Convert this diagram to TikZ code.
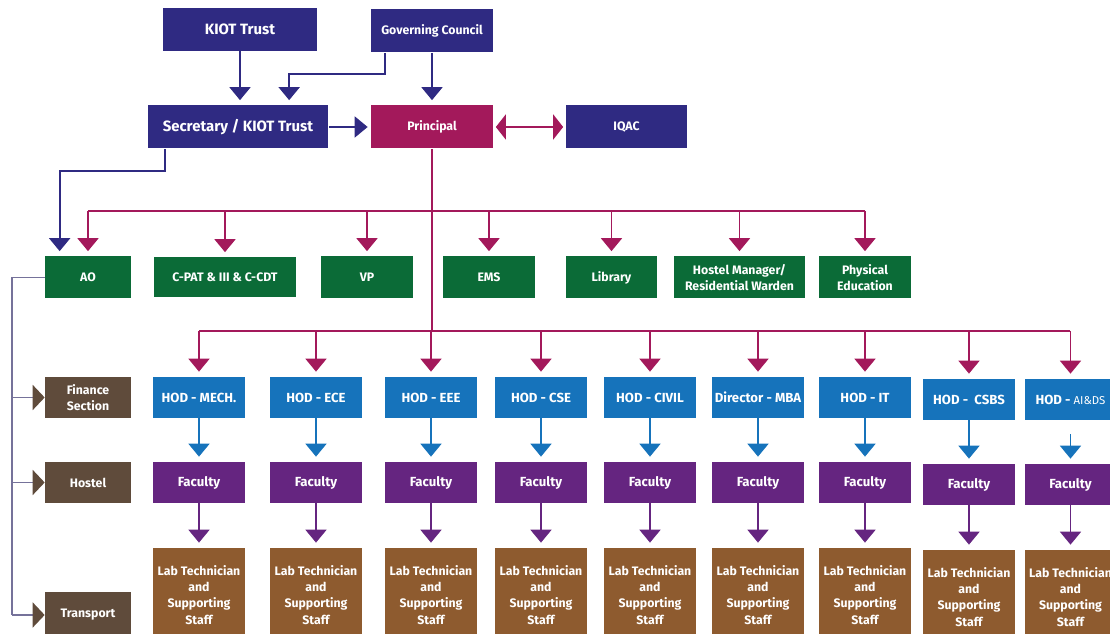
\documentclass[tikz,border=0pt]{standalone}
\usepackage{fontspec}
\setmainfont{Fira Sans}
\usetikzlibrary{arrows.meta,calc,positioning}

\definecolor{trustnavy}{HTML}{2F2A82}
\definecolor{princmag}{HTML}{A3195B}
\definecolor{unitgreen}{HTML}{0B6B37}
\definecolor{hodblue}{HTML}{1673BB}
\definecolor{facpurple}{HTML}{652580}
\definecolor{labbrown}{HTML}{8E5B2F}
\definecolor{sidebrown}{HTML}{5F4B3B}
\definecolor{spinegrey}{HTML}{75729A}

\newcommand{\smallfont}{\bfseries\fontsize{7}{9.2}\selectfont}
\newcommand{\midfont}{\bfseries\fontsize{7.5}{9.2}\selectfont}
\newcommand{\bigfont}{\bfseries\fontsize{8.5}{10}\selectfont}

\tikzset{
  unitbox/.style={rectangle, draw=none, text=white, font=\smallfont, align=center,
    inner sep=0pt, minimum height=0.86cm},
  navybox/.style={unitbox, fill=trustnavy},
  magbox/.style={unitbox, fill=princmag},
  greenbox/.style={unitbox, fill=unitgreen, minimum height=0.84cm},
  hodbox/.style={unitbox, fill=hodblue, font=\midfont, minimum width=1.83cm, minimum height=0.82cm},
  facbox/.style={unitbox, fill=facpurple, font=\midfont, minimum width=1.83cm, minimum height=0.82cm},
  labbox/.style={unitbox, fill=labbrown, minimum width=1.83cm, minimum height=1.88cm},
  sidebox/.style={unitbox, fill=sidebrown, minimum width=1.72cm, minimum height=0.82cm},
  tip/.style={-{Triangle[width=0.42cm,length=0.26cm]}, line width=1.1pt},
  navyarrow/.style={tip, draw=trustnavy, shorten >=0.1cm},
  magarrow/.style={tip, draw=princmag, shorten >=0.1cm},
  magline/.style={draw=princmag, line width=1.1pt},
  bluearrow/.style={tip, draw=hodblue, shorten >=0.1cm},
  purplearrow/.style={tip, draw=facpurple, shorten >=0.1cm},
  spineline/.style={draw=spinegrey, line width=1.1pt},
  sidearrow/.style={-{Triangle[width=0.5cm,length=0.24cm,color=sidebrown]}, draw=spinegrey, line width=1.1pt}
}

\begin{document}
\begin{tikzpicture}[x=0.02cm,y=-0.02cm]
\useasboundingbox (0,0) rectangle (1110,634);
\clip (0,0) rectangle (1110,634);

% top management
\node[navybox, minimum width=3.08cm, font=\bigfont] (kiot) at (240,29.5) {KIOT Trust};
\node[navybox, minimum width=2.44cm] (council) at (432,31) {Governing Council};
\node[navybox, minimum width=3.62cm, font=\bigfont] (secretary) at (238,127) {Secretary / KIOT Trust};
\node[magbox, minimum width=2.44cm] (principal) at (432,127) {Principal};
\node[navybox, minimum width=2.42cm] (iqac) at (626.5,127) {IQAC};

\draw[navyarrow] (kiot.south) -- (kiot.south |- secretary.north);
\draw[navyarrow] ($(council.south west)+(14,0)$) -- ++(0,21) -| ($(secretary.north west)+(142,0)$);
\draw[navyarrow] (council) -- (principal);
\draw[navyarrow, shorten >=0.06cm] (secretary) -- (principal);
\draw[princmag, line width=1.1pt, {Triangle[width=0.5cm,length=0.2cm]}-{Triangle[width=0.5cm,length=0.2cm]},
  shorten <=0.05cm, shorten >=0.05cm] (principal) -- (iqac);

% units under the principal
\node[greenbox, minimum width=1.72cm] (ao) at (88,277.5) {AO};
\node[greenbox, minimum width=2.86cm, minimum height=0.8cm] (cpat) at (225,277.5) {C-PAT \& III \& C-CDT};
\node[greenbox, minimum width=1.84cm] (vp) at (367,277.5) {VP};
\node[greenbox, minimum width=1.84cm] (ems) at (489,277.5) {EMS};
\node[greenbox, minimum width=1.84cm] (library) at (611.5,277.5) {Library};
\node[greenbox, minimum width=2.62cm] (hostelmgr) at (739.5,277.5) {Hostel Manager/\\Residential Warden};
\node[greenbox, minimum width=1.86cm] (phyedu) at (865,277.5) {Physical\\Education};

\coordinate (busone) at (0,211);
\coordinate (bustwo) at (0,331);
\draw[magline] (principal) -- (principal |- bustwo);
\draw[magline] (ao.north |- busone) -- (phyedu.north |- busone);
\foreach \n in {ao,cpat,vp,ems,library,hostelmgr,phyedu}
  \draw[magarrow] (\n.north |- busone) -- (\n.north);

\draw[navyarrow] ($(secretary.south west)+(18,0)$) -- ++(0,22) -| ($(ao.north west)+(15,0)$);

% side sections
\node[sidebox] (finance) at (88,397.5) {Finance\\Section};
\node[sidebox] (hostel) at (88,482.5) {Hostel};
\node[sidebox, minimum height=0.92cm] (transport) at (88,615) {Transport};

\draw[spineline] (ao.west) -- ++(-33,0) coordinate (spine) -- (spine |- transport);
\foreach \n in {finance,hostel,transport}
  \draw[sidearrow] (spine |- \n) -- (\n.west);

% departments
\draw[magline] (199,331) -- (1070,331);
\foreach \n/\x/\y/\txt in {mech/199/0/HOD - MECH., ece/316/0/HOD - ECE, eee/431/0/HOD - EEE,
    cse/541/0/HOD - CSE, civil/650/0/HOD - CIVIL, mba/758/0/Director - MBA,
    it/865/0/HOD - IT, csbs/969/2/HOD -\ \ CSBS,
    aids/1070.5/2/{HOD - {\mdseries\fontsize{6.5}{8}\selectfont AI\&DS}}} {
  \node[hodbox] (hod\n) at (\x,397.5+\y) {\txt};
  \node[facbox] (fac\n) at (\x,482.5+\y) {Faculty};
  \node[labbox] (lab\n) at (\x,595+\y) {Lab Technician\\and\\Supporting\\Staff};
  \draw[magarrow] (hod\n.north |- bustwo) -- (hod\n.north);
  \draw[purplearrow] (fac\n) -- (lab\n);
}
\foreach \n in {mech,ece,eee,cse,civil,mba,it,csbs}
  \draw[bluearrow] (hod\n) -- (fac\n);
\draw[bluearrow, shorten <=0.28cm] (hodaids) -- (facaids);
\end{tikzpicture}
\end{document}
